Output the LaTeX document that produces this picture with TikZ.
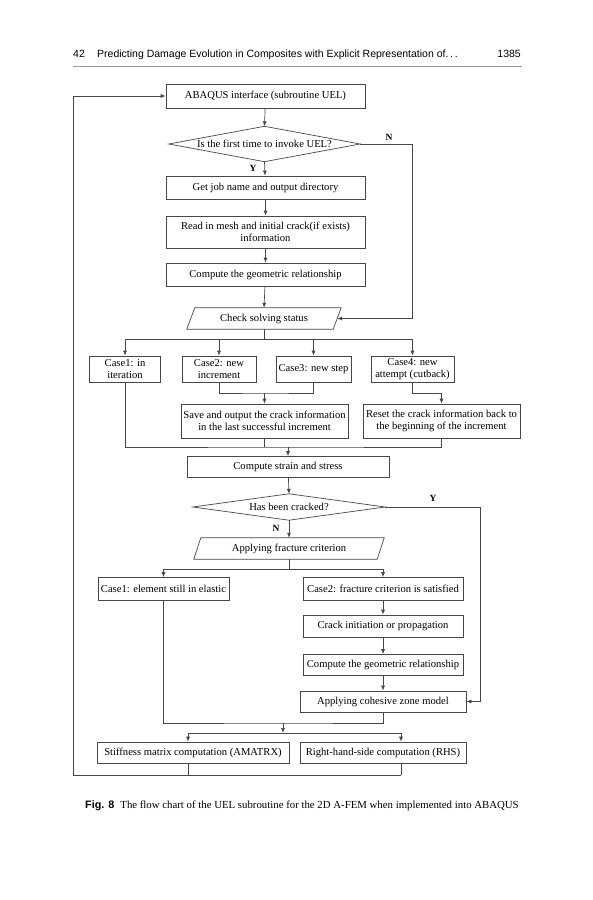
\documentclass[tikz,border=0pt]{standalone}
\usepackage{fontspec}
\setmainfont{Liberation Serif}
\setsansfont{Liberation Sans}
\usetikzlibrary{arrows.meta,calc}
\begin{document}
\begin{tikzpicture}[x=1pt,y=-1pt,
  line/.style={draw=black!72, line width=0.7pt},
  arr/.style={line, -{Latex[length=5pt,width=4pt]}},
  txt/.style={font=\fontsize{10.6}{12.5}\selectfont, align=center, inner sep=1pt},
  box/.style={txt, draw=black!72, line width=0.7pt, rectangle},
  ghost/.style={txt, rectangle},
  lab/.style={font=\bfseries\fontsize{9.5}{10}\selectfont, inner sep=0pt}]
\useasboundingbox (0,0) rectangle (593,900);
\fill[white] (0,0) rectangle (593,900);

% header
\node[anchor=base west, font=\sffamily\fontsize{10.5}{12}\selectfont, inner sep=0pt] (hnum) at (73,57) {42};
\node[anchor=base west, font=\sffamily\fontsize{10.5}{12}\selectfont, inner sep=0pt] (htitle) at (97,57) {Predicting Damage Evolution in Composites with Explicit Representation of.\,.\,.};
\node[anchor=base east, font=\sffamily\fontsize{10.5}{12}\selectfont, inner sep=0pt] (hpage) at (521,57) {1385};
\draw[black!40, line width=1.3pt] (73,66.5) -- (522,66.5);

% nodes
\node[box, minimum width=199pt, minimum height=24pt] (abq) at (265.5,96) {ABAQUS interface (subroutine UEL)};
\node[ghost, minimum width=191pt, minimum height=35pt] (d1) at (264.5,144) {Is the first time to invoke UEL?};
\draw[line] (d1.west) -- (d1.north) -- (d1.east) -- (d1.south) -- cycle;
\node[box, minimum width=199pt, minimum height=23pt] (job) at (265.5,187.5) {Get job name and output directory};
\node[box, minimum width=199pt, minimum height=32pt] (read) at (265.5,232) {Read in mesh and initial crack(if exists)\\information};
\node[box, minimum width=199pt, minimum height=23pt] (geo) at (265.5,274.5) {Compute the geometric relationship};
\node[ghost, minimum width=146pt, minimum height=21pt] (chk) at (264,318.5) {Check solving status};
\draw[line] ($(chk.north west)+(4,0)$) -- ($(chk.north east)+(4,0)$) -- ($(chk.south east)+(-4,0)$) -- ($(chk.south west)+(-4,0)$) -- cycle;

\node[box, minimum width=71pt, minimum height=26pt] (c1) at (125,369) {Case1: in\\iteration};
\node[box, minimum width=74pt, minimum height=26pt] (c2) at (219,369) {Case2: new\\increment};
\node[box, minimum width=75pt, minimum height=26pt] (c3) at (313.5,369) {Case3: new step};
\node[box, minimum width=83pt, minimum height=26pt] (c4) at (412.5,369) {Case4: new\\attempt (cutback)};
\node[box, minimum width=167pt, minimum height=34pt] (save) at (264.5,421) {Save and output the crack information\\in the last successful increment};
\node[box, minimum width=157pt, minimum height=34pt] (reset) at (441.5,421) {Reset the crack information back to\\the beginning of the increment};
\node[box, minimum width=202pt, minimum height=21pt] (strain) at (288,467) {Compute strain and stress};
\node[ghost, minimum width=192pt, minimum height=26pt] (d2) at (289,507) {Has been cracked?};
\draw[line] (d2.west) -- (d2.north) -- (d2.east) -- (d2.south) -- cycle;
\node[ghost, minimum width=183pt, minimum height=21pt] (frac) at (289,548.5) {Applying fracture criterion};
\draw[line] ($(frac.north west)+(3.5,0)$) -- ($(frac.north east)+(3.5,0)$) -- ($(frac.south east)+(-3.5,0)$) -- ($(frac.south west)+(-3.5,0)$) -- cycle;
\node[box, minimum width=131pt, minimum height=23pt] (e1) at (163.5,589) {Case1: element still in elastic};
\node[box, minimum width=160pt, minimum height=23pt] (e2) at (383,589) {Case2: fracture criterion is satisfied};
\node[box, minimum width=160pt, minimum height=22pt] (crack) at (383,626) {Crack initiation or propagation};
\node[box, minimum width=160pt, minimum height=21pt] (geo2) at (383,665) {Compute the geometric relationship};
\node[box, minimum width=166pt, minimum height=21pt] (coh) at (383,701.5) {Applying cohesive zone model};
\node[box, minimum width=192pt, minimum height=21pt] (stiff) at (193,752.5) {Stiffness matrix computation (AMATRX)};
\node[box, minimum width=166pt, minimum height=21pt] (rhs) at (383,752.5) {Right-hand-side computation (RHS)};

% labels
\node[lab] (n1l) at (389,137) {N};
\node[lab] (y1l) at (253,168) {Y};
\node[lab] (y2l) at (433,498) {Y};
\node[lab] (n2l) at (276,528) {N};

% coordinates
\coordinate (n1) at (412,144);
\coordinate (sp1) at (264,339);
\coordinate (j1) at (264.5,393);
\coordinate (j2) at (288,447);
\coordinate (y2) at (480,507);
\coordinate (j3) at (289,569);
\coordinate (j4) at (283,723);
\coordinate (j5) at (283,733);
\coordinate (s1) at (188,733);
\coordinate (s2) at (401,733);
\coordinate (b1) at (188,775);
\coordinate (b2) at (401,775);
\coordinate (b0) at (73,775);
\coordinate (t0) at (73,96);

% connectors
\draw[arr] (abq) -- (d1.north);
\draw[arr] (d1.south) -- (job);
\draw[arr] (job) -- (read);
\draw[arr] (read) -- (geo);
\draw[arr] (geo) -- (chk.north);
\draw[arr] (d1.east) -- (n1) |- (chk.east);
\draw[line] (chk.south) -- (sp1);
\draw[arr] (sp1) -| (c1.north);
\draw[arr] (sp1) -| (c2.north);
\draw[arr] (sp1) -| (c3.north);
\draw[arr] (sp1) -| (c4.north);
\draw[line] (c2.south) |- (j1) -| (c3.south);
\draw[arr] (j1) -- (save.north);
\draw[arr] (c4.south) -- ++(0,11) -| (reset.north);
\draw[line] (c1.south) |- (j2) -| (reset.south);
\draw[line] (save.south) -- (save.south |- j2);
\draw[arr] (j2) -- (strain.north);
\draw[arr] (strain) -- (d2.north);
\draw[arr] (d2.east) -- (y2) |- (coh.east);
\draw[arr] (d2.south) -- (frac.north);
\draw[line] (frac.south) -- (j3);
\draw[arr] (j3) -| (e1.north);
\draw[arr] (j3) -| (e2.north);
\draw[arr] (e2) -- (crack);
\draw[arr] (crack) -- (geo2);
\draw[arr] (geo2) -- (coh);
\draw[line] (e1.south) |- (j4) -| (coh.south);
\draw[arr] (j4) -- (j5);
\draw[line] (s1) -- (s2);
\draw[arr] (s1) -- (s1 |- stiff.north);
\draw[arr] (s2) -- (s2 |- rhs.north);
\draw[line] (s1 |- stiff.south) -- (b1);
\draw[line] (s2 |- rhs.south) -- (b2);
\draw[arr] (b2) -- (b0) -- (t0) -- (abq.west);

% caption
\node[anchor=base west, inner sep=0pt, font=\fontsize{10.8}{12}\selectfont] (cap) at (85,808) {{\sffamily\bfseries Fig. 8}\hspace{6pt}The flow chart of the UEL subroutine for the 2D A-FEM when implemented into ABAQUS};
\end{tikzpicture}
\end{document}
